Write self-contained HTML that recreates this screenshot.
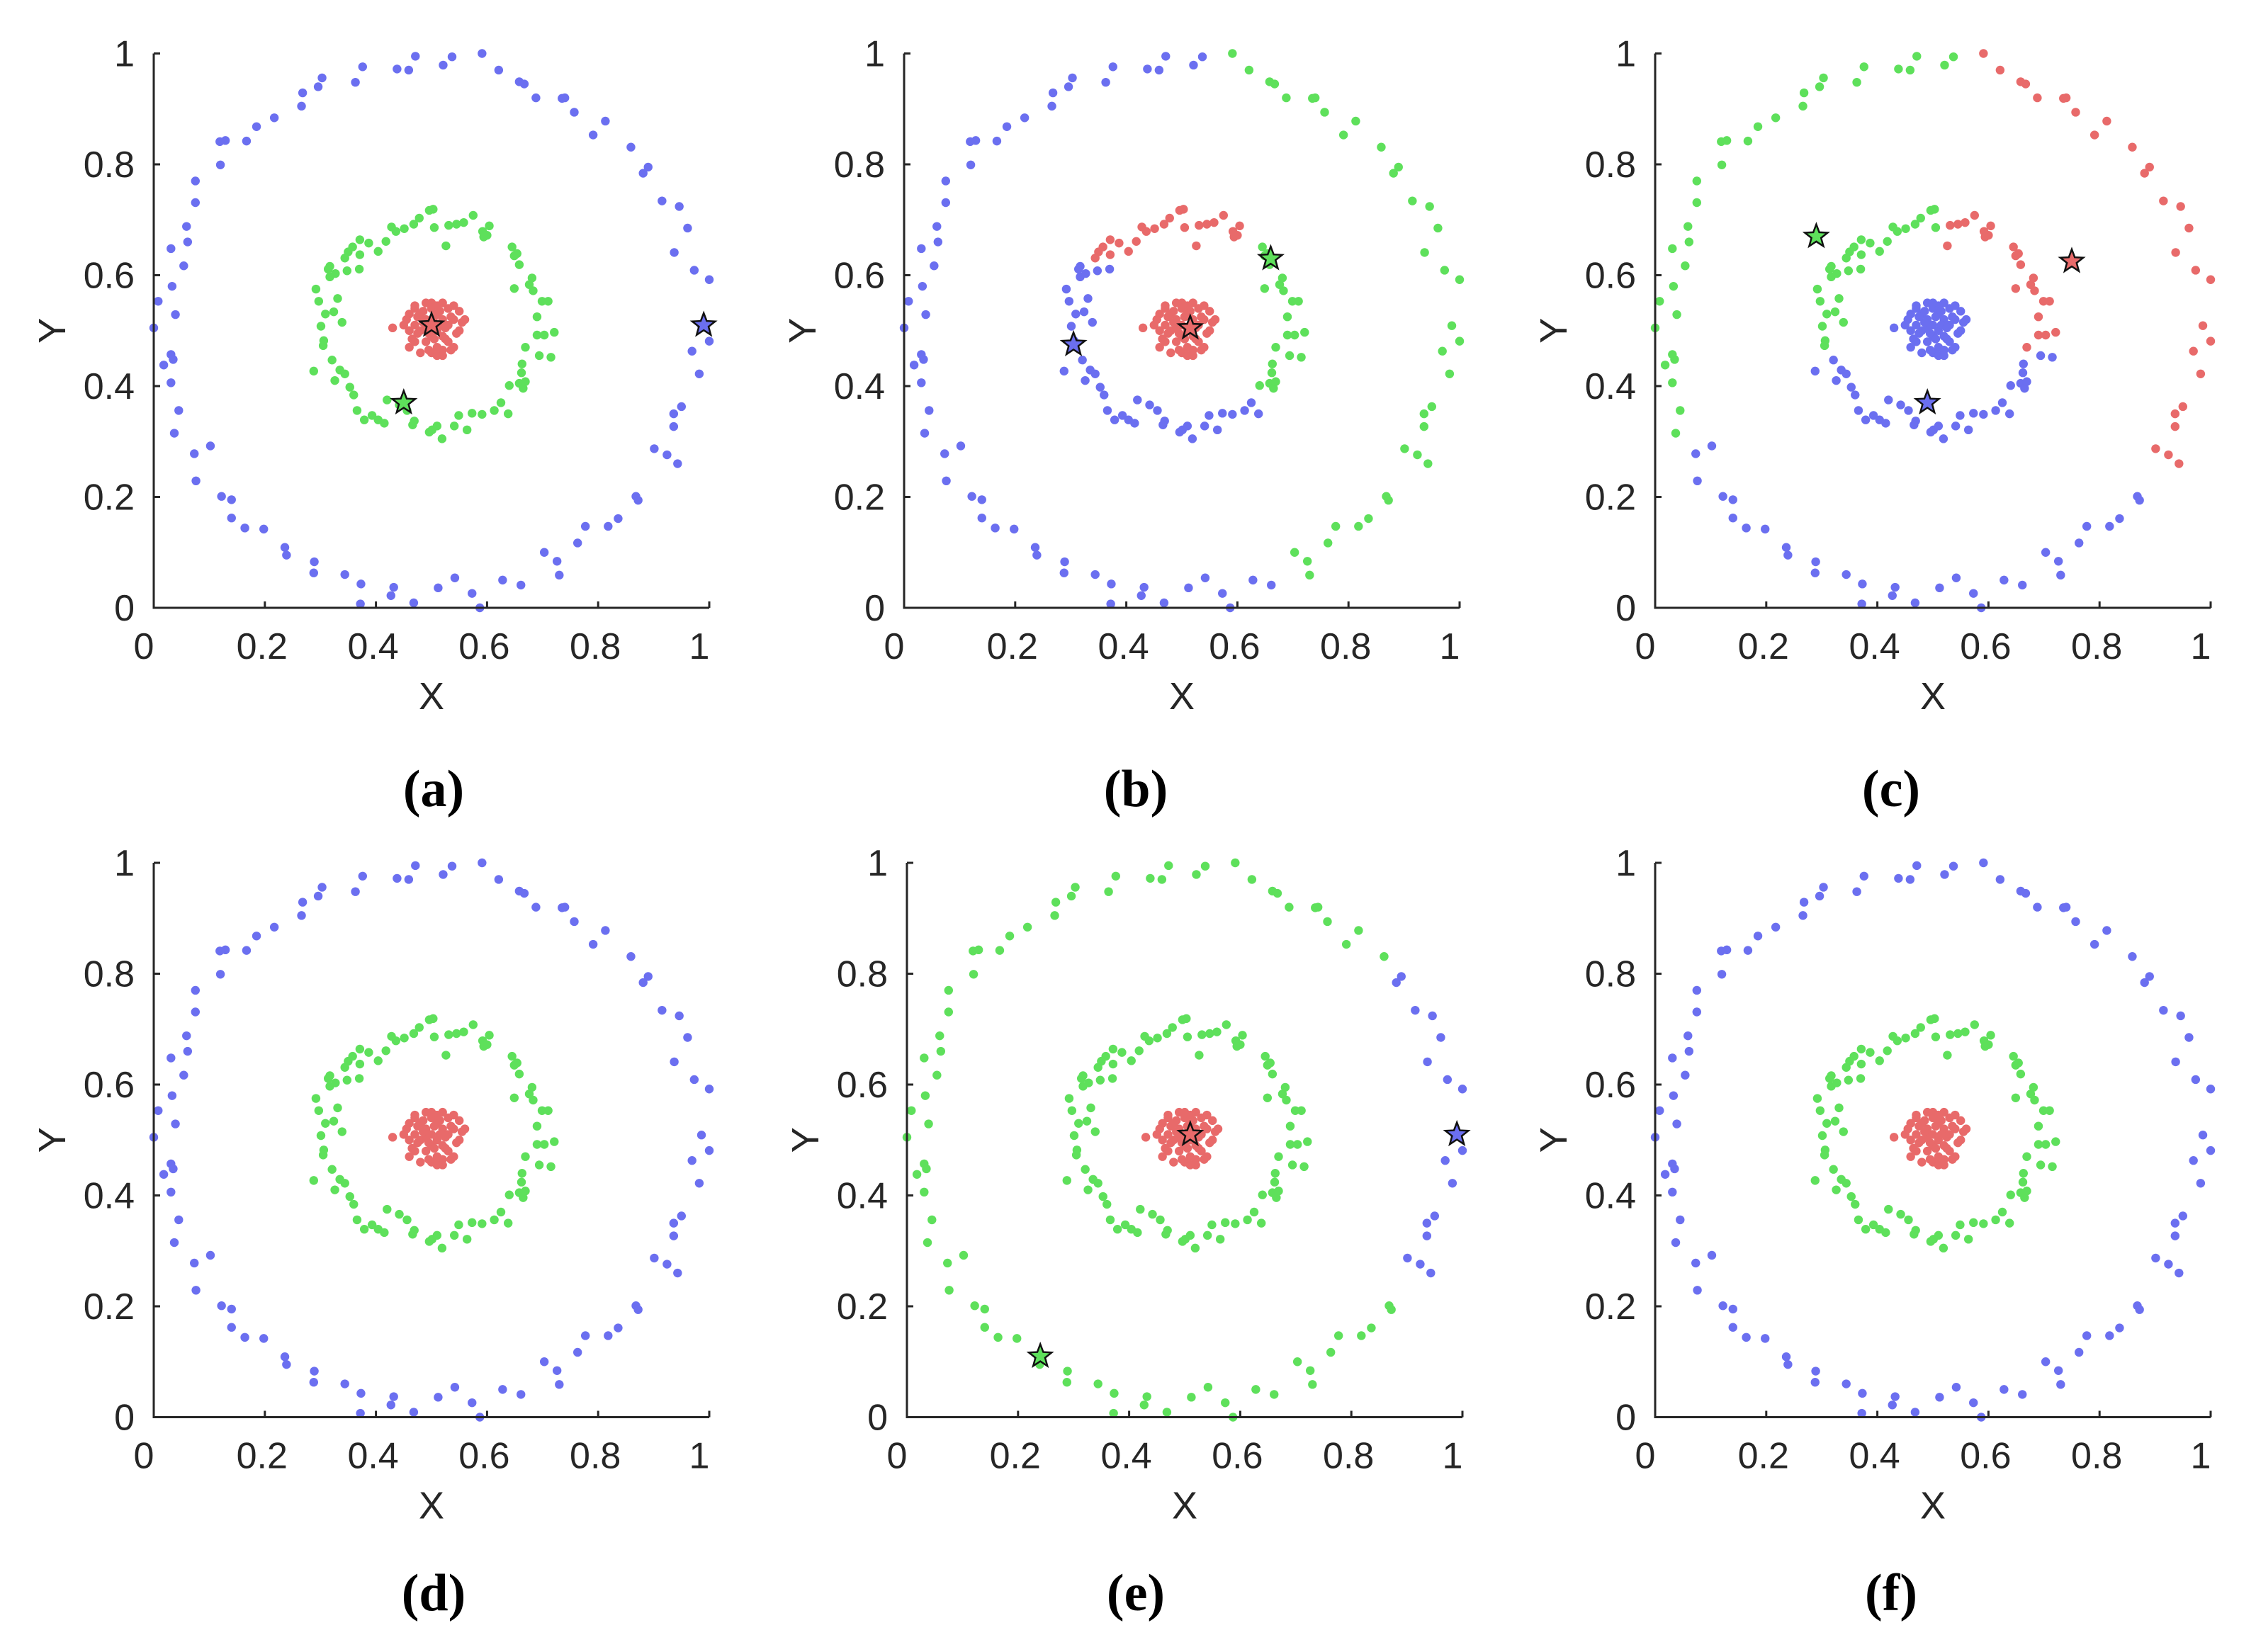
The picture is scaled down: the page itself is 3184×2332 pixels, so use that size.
<!DOCTYPE html>
<html><head><meta charset="utf-8"><style>html,body{margin:0;padding:0;background:#fff}svg{display:block}</style></head>
<body>
<svg id="fig" xmlns="http://www.w3.org/2000/svg" width="3184" height="2332" viewBox="0 0 3184 2332"></svg>
<script>
const outerX=[0.591,0.537,0.521,0.471,0.459,0.438,0.376,0.363,0.303,0.296,0.268,0.266,0.217,0.185,0.167,0.129,0.119,0.120,0.075,0.075,0.059,0.061,0.031,0.054,0.033,0.008,0.000,0.039,0.018,0.031,0.035,0.031,0.045,0.037,0.073,0.102,0.076,0.122,0.140,0.140,0.164,0.198,0.236,0.239,0.289,0.288,0.344,0.373,0.372,0.427,0.432,0.468,0.512,0.542,0.573,0.587,0.628,0.661,0.703,0.726,0.730,0.763,0.777,0.818,0.836,0.868,0.872,0.901,0.924,0.943,0.936,0.936,0.950,0.982,0.969,1.000,0.986,0.937,0.973,1.000,0.961,0.946,0.915,0.881,0.890,0.859,0.813,0.791,0.757,0.740,0.735,0.688,0.667,0.658,0.621];
const outerY=[1.000,0.994,0.979,0.995,0.970,0.972,0.976,0.948,0.956,0.940,0.929,0.905,0.884,0.868,0.842,0.843,0.841,0.799,0.770,0.731,0.688,0.660,0.648,0.617,0.580,0.553,0.505,0.529,0.438,0.457,0.448,0.406,0.356,0.315,0.278,0.292,0.229,0.201,0.195,0.162,0.144,0.142,0.109,0.095,0.083,0.063,0.060,0.043,0.007,0.022,0.037,0.009,0.036,0.054,0.026,0.000,0.050,0.041,0.100,0.084,0.059,0.117,0.147,0.147,0.161,0.201,0.194,0.287,0.276,0.260,0.327,0.350,0.363,0.422,0.463,0.481,0.509,0.641,0.609,0.592,0.685,0.724,0.734,0.784,0.795,0.831,0.878,0.853,0.894,0.920,0.919,0.920,0.945,0.949,0.970];
const midX=[0.503,0.496,0.531,0.545,0.558,0.575,0.592,0.600,0.604,0.594,0.526,0.505,0.478,0.468,0.451,0.436,0.428,0.418,0.404,0.387,0.371,0.358,0.350,0.344,0.371,0.370,0.348,0.317,0.317,0.327,0.314,0.292,0.297,0.331,0.324,0.309,0.339,0.301,0.306,0.305,0.321,0.288,0.335,0.344,0.326,0.353,0.360,0.366,0.379,0.393,0.404,0.415,0.420,0.442,0.456,0.469,0.466,0.501,0.510,0.519,0.496,0.541,0.549,0.564,0.573,0.591,0.613,0.625,0.638,0.640,0.658,0.665,0.669,0.662,0.663,0.669,0.694,0.715,0.690,0.703,0.721,0.690,0.683,0.699,0.710,0.676,0.681,0.649,0.658,0.649,0.654,0.645];
const midY=[0.719,0.717,0.690,0.692,0.695,0.708,0.679,0.672,0.689,0.669,0.653,0.686,0.703,0.692,0.684,0.679,0.687,0.661,0.643,0.658,0.664,0.651,0.642,0.631,0.637,0.611,0.608,0.616,0.597,0.603,0.611,0.575,0.553,0.558,0.534,0.530,0.515,0.508,0.482,0.473,0.447,0.427,0.429,0.422,0.410,0.398,0.384,0.356,0.339,0.347,0.339,0.333,0.375,0.366,0.356,0.337,0.330,0.321,0.328,0.305,0.317,0.328,0.347,0.321,0.351,0.349,0.356,0.370,0.350,0.401,0.405,0.396,0.408,0.424,0.440,0.470,0.455,0.452,0.492,0.492,0.497,0.525,0.572,0.553,0.553,0.583,0.595,0.576,0.619,0.635,0.639,0.651];
const coreX=[0.50,0.49,0.51,0.52,0.48,0.50,0.53,0.47,0.51,0.49,0.52,0.50,0.54,0.46,0.48,0.53,0.51,0.47,0.55,0.49,0.52,0.45,0.56,0.50,0.53,0.47,0.48,0.54,0.51,0.46,0.55,0.52,0.49,0.505,0.495,0.515,0.485,0.525,0.475,0.505,0.535,0.465,0.545,0.485,0.515,0.475,0.525,0.455,0.495,0.535,0.43,0.555,0.51,0.46,0.54,0.47,0.50,0.52];
const coreY=[0.51,0.52,0.50,0.52,0.50,0.49,0.51,0.51,0.53,0.48,0.49,0.54,0.52,0.50,0.53,0.48,0.47,0.48,0.50,0.55,0.55,0.51,0.52,0.46,0.54,0.54,0.46,0.47,0.545,0.53,0.535,0.465,0.505,0.525,0.495,0.51,0.515,0.505,0.495,0.485,0.525,0.485,0.495,0.535,0.535,0.525,0.485,0.52,0.465,0.465,0.505,0.515,0.455,0.47,0.545,0.545,0.55,0.455];
const tickVals=[0,0.2,0.4,0.6,0.8,1];
const tickLabels=["0","0.2","0.4","0.6","0.8","1"];
const panelNames=["a","b","c","d","e","f"];
const starsA=[[0.50,0.51,"r"],[0.45,0.37,"g"],[0.99,0.51,"b"]];
const starsB=[[0.515,0.505,"r"],[0.66,0.63,"g"],[0.305,0.475,"b"]];
const starsC=[[0.29,0.67,"g"],[0.75,0.625,"r"],[0.49,0.37,"b"]];
const starsE=[[0.51,0.51,"r"],[0.99,0.51,"b"],[0.24,0.11,"g"]];

const COL={r:"#e86a6a",g:"#5ee05b",b:"#6b6ff0"};
const NS="http://www.w3.org/2000/svg";
const svg=document.getElementById('fig');
function mk(tag,attrs,parent){const e=document.createElementNS(NS,tag);for(const k in attrs)e.setAttribute(k,attrs[k]);(parent||svg).appendChild(e);return e;}

const panels=[
 {x0:217,top:75.5,lx:612,ly:1138,stars:starsA},
 {x0:1276,top:75.5,lx:1603,ly:1138,stars:starsB},
 {x0:2336,top:75.5,lx:2669,ly:1138,stars:starsC},
 {x0:217,top:1218,lx:612,ly:2273,stars:[]},
 {x0:1280,top:1218,lx:1603,ly:2273,stars:starsE},
 {x0:2336,top:1218,lx:2669,ly:2273,stars:[]}
];
const W=784,H=782.5;

function colorOf(p,ring,x,y){
 if(p===0||p===3||p===5){return ring==="outer"?"b":ring==="mid"?"g":"r";}
 if(p===1){
  if(ring==="core")return "r";
  if(ring==="mid"){if(y>0.625&&x<0.63)return "r";if(x>0.635&&y>0.39)return "g";return "b";}
  if((x>0.58&&y>0.5)||x>0.69)return "g";return "b";
 }
 if(p===2){
  if(ring==="core")return "b";
  if(ring==="mid"){if(y>=0.465)return x<0.512?"g":"r";return "b";}
  if(x<0.56)return y>0.3?"g":"b";return y>0.23?"r":"b";
 }
 if(p===4){
  if(ring==="core")return "r";
  if(ring==="mid")return "g";
  return (x>0.875&&y>0.23&&y<0.81)?"b":"g";
 }
}
function starPath(cx,cy,R){const r=R*0.42;let d="";for(let i=0;i<10;i++){const a=-Math.PI/2+i*Math.PI/5;const rr=i%2?r:R;d+=(i?"L":"M")+(cx+rr*Math.cos(a)).toFixed(1)+","+(cy+rr*Math.sin(a)).toFixed(1);}return d+"Z";}

panels.forEach((P,pi)=>{
 const g=mk('g',{});
 
 
 const sx=v=>P.x0+v*W, sy=v=>P.top+H-v*H, bottom=P.top+H;
 const rings=[["outer",outerX,outerY],["mid",midX,midY],["core",coreX,coreY]];
 rings.forEach(([ring,XS,YS])=>{
  XS.forEach((x,i)=>{
   const y=YS[i];
   const c=mk('circle',{cx:sx(x),cy:sy(y),r:6.2,fill:COL[colorOf(pi,ring,x,y)]},g);
   
   
  });
 });
 P.stars.forEach(s=>{
  const st=mk('path',{d:starPath(sx(s[0]),sy(s[1]),17),fill:COL[s[2]],stroke:"#111","stroke-width":2.5,"stroke-linejoin":"miter"},g);
  
  
 });
 const ax=mk('path',{d:`M${sx(0)},${sy(1)}L${sx(0)},${bottom}L${sx(1)},${bottom}`,fill:"none",stroke:"#262626","stroke-width":3},g);
 
 
 tickVals.forEach((v,i)=>{
  const tx=mk('line',{x1:sx(v),y1:bottom,x2:sx(v),y2:bottom-9,stroke:"#262626","stroke-width":3},g);
  
  
  const ty=mk('line',{x1:sx(0),y1:sy(v),x2:sx(0)+9,y2:sy(v),stroke:"#262626","stroke-width":3},g);
  
  
  const single=tickLabels[i].length===1;
  const lx=mk('text',{x:sx(v)-(single?14:4),y:bottom+72,"text-anchor":"middle","font-family":"Liberation Sans, sans-serif","font-size":52,fill:"#262626"},g);
  lx.textContent=tickLabels[i];
  
  
  const ly=mk('text',{x:sx(0)-27,y:sy(v)+18,"text-anchor":"end","font-family":"Liberation Sans, sans-serif","font-size":52,fill:"#262626"},g);
  ly.textContent=tickLabels[i];
  
  
 });
 const xt=mk('text',{x:sx(0.5),y:bottom+143,"text-anchor":"middle","font-family":"Liberation Sans, sans-serif","font-size":54,fill:"#262626"},g);
 xt.textContent="X";
 
 
 const yx=P.x0-143, yy=sy(0.5);
 const yt=mk('text',{x:yx,y:yy,"text-anchor":"middle","font-family":"Liberation Sans, sans-serif","font-size":54,fill:"#262626",transform:`rotate(-90 ${yx} ${yy})`,"dominant-baseline":"central"},g);
 yt.textContent="Y";
 
 
 const cap=mk('text',{x:P.lx,y:P.ly,"text-anchor":"middle","font-family":"Liberation Serif, serif","font-size":74,"font-weight":"bold",fill:"#000"},g);
 cap.textContent="("+panelNames[pi]+")";
 
 
});
</script>
</body></html>
